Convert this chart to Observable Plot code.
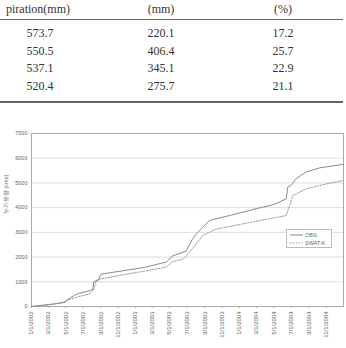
<!DOCTYPE html>
<html>
<head>
<meta charset="utf-8">
<script src="https://cdn.jsdelivr.net/npm/d3@7"></script>
<script src="https://cdn.jsdelivr.net/npm/@observablehq/plot@0.6"></script>
<style>
  html, body { margin: 0; padding: 0; background: #fff; }
  #page { position: relative; width: 346px; height: 348px; overflow: hidden; background: #fff; }
  .tcell { position: absolute; font-family: 'Liberation Serif', 'Times New Roman', 'DejaVu Serif', serif; font-size: 12px; color: #333; line-height: 12px; white-space: nowrap; transform: translate(-50%, -50%); }
  .hline { position: absolute; left: 0; width: 343px; background: #666; }
  #chart { position: absolute; left: 0; top: 110px; }
  #legend { position: absolute; left: 286px; top: 229px; width: 44px; height: 17px; border: 1px solid #bbb; background: #fff; }
</style>
</head>
<body>
<div id="page">
  <div id="chart"></div>
  <div id="legend"></div>
</div>
<script>
// ---- Table data ----
const tableHeaders = ["piration(mm)", "(mm)", "(%)"];
const colEvap = [573.7, 550.5, 537.1, 520.4];
const colMm = [220.1, 406.4, 345.1, 275.7];
const colPct = [17.2, 25.7, 22.9, 21.1];

// ---- Chart data ----
const obsDates = ["2002-01-01","2002-02-01","2002-03-01","2002-04-01","2002-04-25","2002-05-10","2002-06-01","2002-06-15","2002-07-05","2002-08-05","2002-08-07","2002-08-25","2002-09-01","2002-10-01","2002-12-01","2003-02-01","2003-04-20","2003-05-10","2003-06-28","2003-07-21","2003-08-08","2003-08-20","2003-09-18","2003-12-01","2004-02-01","2004-03-01","2004-04-28","2004-05-20","2004-06-14","2004-06-19","2004-07-01","2004-07-18","2004-08-23","2004-10-09","2004-12-31"];
const obsValues = [0,40,80,120,180,300,450,530,580,690,1000,1090,1300,1360,1470,1580,1800,2040,2240,2740,3000,3140,3480,3690,3870,3960,4115,4220,4360,4830,4900,5170,5440,5610,5750];
const swatDates = ["2002-01-01","2002-03-01","2002-05-01","2002-05-10","2002-06-15","2002-07-25","2002-08-05","2002-08-15","2002-09-01","2003-01-01","2003-04-20","2003-05-10","2003-06-20","2003-07-20","2003-08-25","2003-10-01","2003-10-15","2004-03-01","2004-06-14","2004-07-07","2004-08-23","2004-10-09","2004-12-31"];
const swatValues = [0,60,170,260,400,510,650,980,1120,1370,1590,1800,1930,2330,2870,3075,3140,3450,3680,4490,4760,4900,5100];
const yTicks = [0,1000,2000,3000,4000,5000,6000,7000];
const xTickStrings = ["2002-01-01","2002-03-01","2002-05-01","2002-07-01","2002-09-01","2002-11-01","2003-01-01","2003-03-01","2003-05-01","2003-07-01","2003-09-01","2003-11-01","2004-01-01","2004-03-01","2004-05-01","2004-07-01","2004-09-01","2004-11-01"];
const seriesNames = ["OBS.", "SWAT-K"];
const yLabel = "누가유량 (cms)";

// ---- Table ----
const page = document.getElementById("page");
const colX = [40, 161, 283];
function addCell(text, x, y) {
  const d = document.createElement("div");
  d.className = "tcell";
  d.textContent = text;
  d.style.left = x + "px";
  d.style.top = y + "px";
  page.appendChild(d);
}
addCell(tableHeaders[0], 38, 9);
addCell(tableHeaders[1], colX[1], 9);
addCell(tableHeaders[2], colX[2], 9);
const rowY = [33, 50.5, 68, 85.5];
colEvap.forEach((v, i) => {
  addCell(v.toFixed(1), colX[0], rowY[i]);
  addCell(colMm[i].toFixed(1), colX[1], rowY[i]);
  addCell(colPct[i].toFixed(1), colX[2], rowY[i]);
});
function addLine(y, h) {
  const l = document.createElement("div");
  l.className = "hline";
  l.style.top = y + "px";
  l.style.height = h + "px";
  page.appendChild(l);
}
addLine(18.5, 1);
addLine(101, 1.5);

// ---- Chart ----
const parse = d3.utcParse("%Y-%m-%d");
const obs = obsDates.map((d, i) => ({date: parse(d), value: obsValues[i]}));
const swat = swatDates.map((d, i) => ({date: parse(d), value: swatValues[i]}));
const xTicks = xTickStrings.map(parse);
const fmt = d => `${d.getUTCMonth() + 1}/${d.getUTCDate()}/${d.getUTCFullYear()}`;

const chart = Plot.plot({
  width: 346,
  height: 238,
  marginTop: 23,
  marginBottom: 42,
  marginLeft: 31,
  marginRight: 3,
  style: {background: "transparent", fontFamily: "Liberation Sans, Arial, sans-serif", color: "#666"},
  x: {type: "utc", domain: [parse("2002-01-01"), parse("2005-01-01")]},
  y: {domain: [0, 7000]},
  marks: [
    Plot.ruleY(yTicks.slice(1, -1), {stroke: "#ddd", strokeWidth: 1}),
    Plot.frame({stroke: "#aaa", strokeWidth: 1}),
    Plot.axisY({ticks: yTicks, tickFormat: d => String(d), tickSize: 0, tickPadding: 4, fontSize: 5.5, label: null, fill: "#666"}),
    Plot.axisX({ticks: xTicks, tickFormat: fmt, tickRotate: -90, tickSize: 2, tickPadding: 3, fontSize: 6, label: null, fill: "#666", stroke: "#aaa"}),
    Plot.text([yLabel], {frameAnchor: "left", dx: -25, dy: -6, rotate: -90, fontSize: 5.5, fill: "#666"}),
    Plot.line(swat, {x: "date", y: "value", stroke: "#9a9a9a", strokeWidth: 1, strokeDasharray: "1.5,1.5"}),
    Plot.line(obs, {x: "date", y: "value", stroke: "#8a8a8a", strokeWidth: 1})
  ]
});
document.getElementById("chart").appendChild(chart);

// ---- Legend ----
const legend = document.getElementById("legend");
legend.innerHTML = `
<svg width="44" height="17" style="position:absolute;left:0;top:0">
  <line x1="3" y1="5" x2="16" y2="5" stroke="#8a8a8a" stroke-width="1"/>
  <line x1="3" y1="13" x2="16" y2="13" stroke="#9a9a9a" stroke-width="1" stroke-dasharray="1.5,1.5"/>
  <text x="18" y="7" font-size="5.5" fill="#666" font-family="Liberation Sans, Arial, sans-serif">${seriesNames[0]}</text>
  <text x="18" y="15" font-size="5.5" fill="#666" font-family="Liberation Sans, Arial, sans-serif">${seriesNames[1]}</text>
</svg>`;
</script>
</body>
</html>
